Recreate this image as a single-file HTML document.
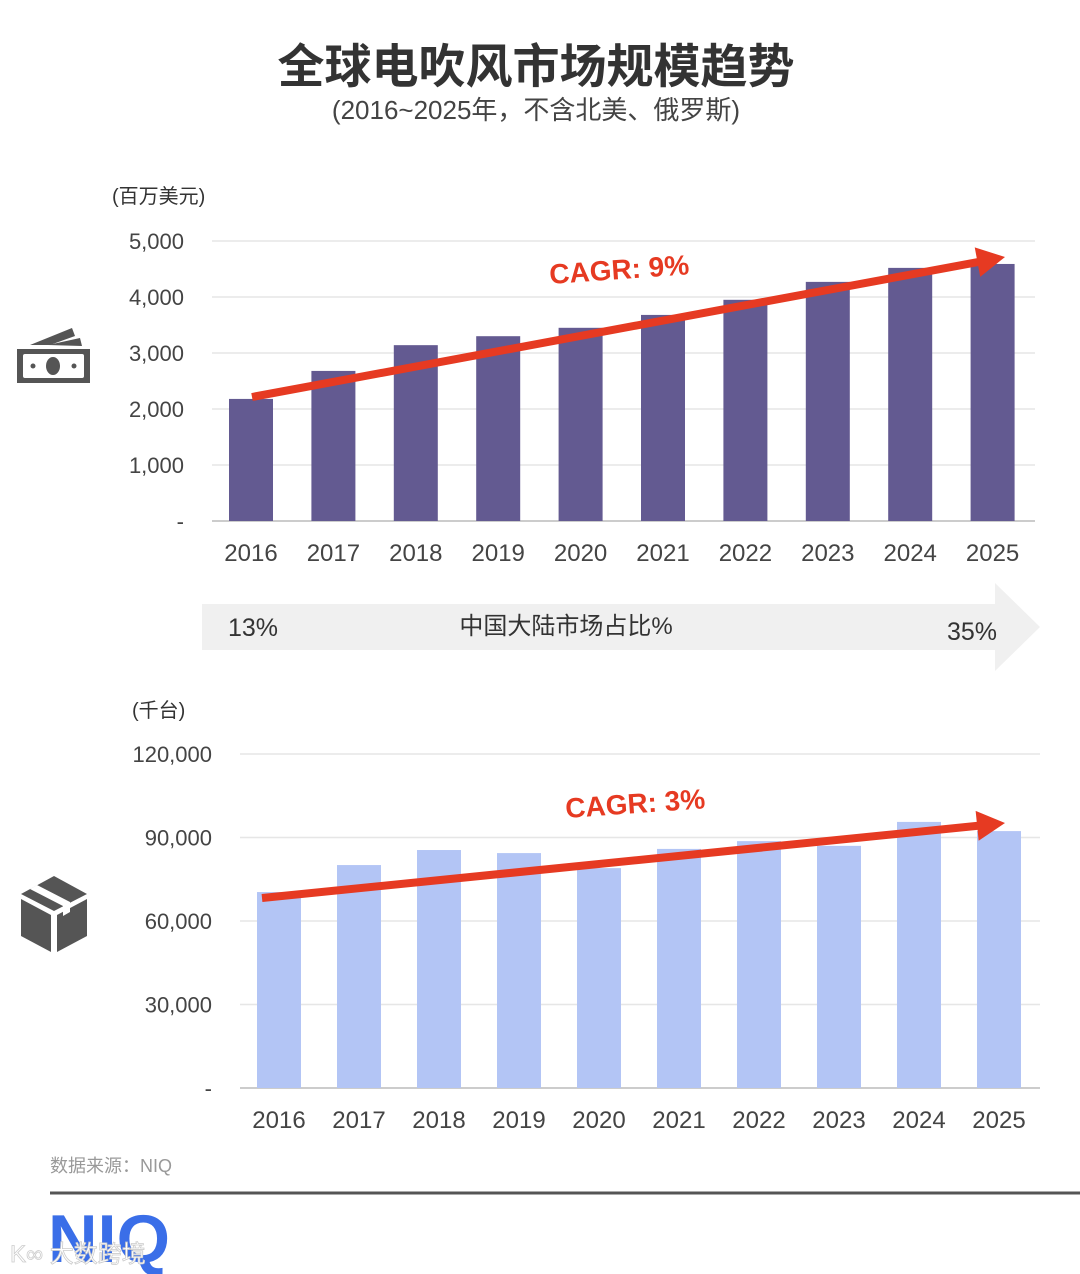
<!DOCTYPE html>
<html><head><meta charset="utf-8"><style>
body{margin:0;background:#fff;}
svg{display:block;font-family:"Liberation Sans","Noto Sans CJK SC",sans-serif;}
</style></head><body>
<svg id="c" width="1080" height="1274" viewBox="0 0 1080 1274">
<text x="536" y="83" text-anchor="middle" font-size="47" font-weight="bold" fill="#333">全球电吹风市场规模趋势</text>
<text x="536" y="119" text-anchor="middle" font-size="26" fill="#444">(2016~2025年，不含北美、俄罗斯)</text>
<text x="112" y="203" font-size="20" fill="#333">(百万美元)</text>
<text x="132" y="717" font-size="20" fill="#333">(千台)</text>
<g id="top"></g>
<g id="bot"></g>
<g fill="#555">
<rect x="17" y="349" width="73" height="34"/>
<rect x="23" y="354" width="61" height="24" fill="#fff" rx="2"/>
<ellipse cx="53" cy="366" rx="7" ry="9"/>
<circle cx="33" cy="366" r="2.5"/>
<circle cx="74" cy="366" r="2.5"/>
<polygon points="30,345 72,328 75,336 50,345"/>
<polygon points="48,345 80,338 82,346"/>
</g>
<g fill="#555">
<polygon points="54,876 87,894 54,911 21,894"/>
<polygon points="21,899 51,915 51,952 21,936"/>
<polygon points="57,915 87,899 87,936 57,952"/>
<polygon points="37,885 70,902 70,912 63,916 63,906 30,889" fill="#fff"/>
</g>
<polygon points="202,604 995,604 995,583 1040,627 995,671 995,650 202,650" fill="#f0f0f0"/>
<text x="228" y="636" font-size="25" fill="#333">13%</text>
<text x="566" y="634" text-anchor="middle" font-size="24" fill="#333">中国大陆市场占比%</text>
<text x="947" y="640" font-size="25" fill="#333">35%</text>
<text x="50" y="1172" font-size="18" fill="#999">数据来源：NIQ</text>
<line x1="50" y1="1193" x2="1080" y2="1193" stroke="#555" stroke-width="3"/>
<text x="48" y="1262" font-size="68" font-weight="bold" fill="#3a6ee8" textLength="122" lengthAdjust="spacingAndGlyphs">NIQ</text>
<text x="10" y="1262" font-size="24" fill="#fff" stroke="#ccc" stroke-width="0.8">K∞ 大数跨境</text>
</svg>
<script>
const years=["2016","2017","2018","2019","2020","2021","2022","2023","2024","2025"];
const revenue=[2180,2680,3140,3300,3450,3680,3950,4270,4520,4590];
const revTicks=[0,1000,2000,3000,4000,5000];
const revTickLabels=["-","1,000","2,000","3,000","4,000","5,000"];
const volume=[70400,80100,85500,84400,79000,85900,88700,87000,95600,92300];
const volTicks=[0,30000,60000,90000,120000];
const volTickLabels=["-","30,000","60,000","90,000","120,000"];
const NS="http://www.w3.org/2000/svg";
function mk(p,t,a){const e=document.createElementNS(NS,t);for(const k in a)e.setAttribute(k,a[k]);p.appendChild(e);return e;}
function draw(g,cfg){
 const y=v=>cfg.y0-(v/cfg.max)*(cfg.y0-cfg.y1);
 const x=i=>cfg.x0+cfg.step*i;
 cfg.ticks.forEach((t,i)=>{
  const l=mk(g,'line',{x1:cfg.gl,x2:cfg.gr,y1:y(t),y2:y(t),stroke:i==0?'#ccc':'#e6e6e6','stroke-width':i==0?2:1.5});
  
  
  const tx=mk(g,'text',{x:cfg.tx,y:y(t)+8,'text-anchor':'end','font-size':22,fill:'#444'});
  tx.textContent=cfg.labels[i];
  
  
 });
 cfg.vals.forEach((v,i)=>{
  const r=mk(g,'rect',{x:x(i)-22,y:y(v),width:44,height:cfg.y0-y(v),fill:cfg.color});
  
  
  const t=mk(g,'text',{x:x(i),y:cfg.y0+40,'text-anchor':'middle','font-size':24,fill:'#444'});
  t.textContent=years[i];
  
  
 });
 const a=cfg.arrow;
 const ln=mk(g,'line',{x1:a[0],y1:a[1],x2:a[2]-22*Math.cos(a[4]),y2:a[3]-22*Math.sin(a[4]),stroke:'#e63a22','stroke-width':8});
 
 
 const c=Math.cos(a[4]),s=Math.sin(a[4]);
 const hx=a[2]-28*c,hy=a[3]-28*s;
 const hd=mk(g,'polygon',{points:`${a[2]},${a[3]} ${hx-15*s},${hy+15*c} ${hx+15*s},${hy-15*c}`,fill:'#e63a22'});
 
 
 const lb=mk(g,'text',{x:cfg.lab[0],y:cfg.lab[1],'font-size':28,'font-weight':'bold',fill:'#e63a22',transform:`rotate(-4 ${cfg.lab[0]} ${cfg.lab[1]})`});
 lb.textContent=cfg.lab[2];
 
 
}
draw(document.getElementById('top'),{y0:521,y1:241,max:5000,x0:251,step:82.4,gl:212,gr:1035,tx:184,ticks:revTicks,labels:revTickLabels,vals:revenue,color:'#635a91',arrow:[252,397,1005,257,Math.atan2(257-397,1005-252)],lab:[550,284,'CAGR: 9%']});
draw(document.getElementById('bot'),{y0:1088,y1:754,max:120000,x0:279,step:80,gl:240,gr:1040,tx:212,ticks:volTicks,labels:volTickLabels,vals:volume,color:'#b3c5f5',arrow:[262,898,1005,823,Math.atan2(823-898,1005-262)],lab:[566,818,'CAGR: 3%']});
</script>
</body></html>
